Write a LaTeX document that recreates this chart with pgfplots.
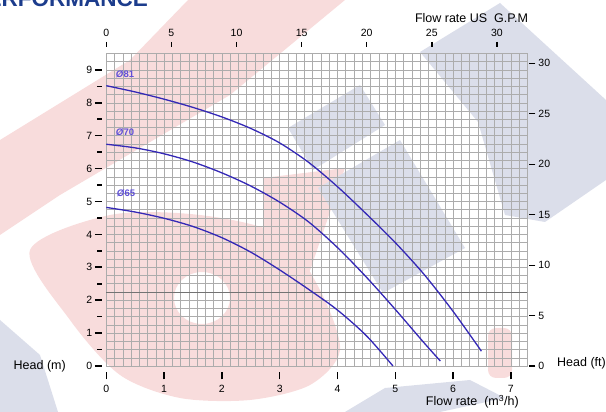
\documentclass[border=0pt]{standalone}
\usepackage{fontspec}
\setmainfont{Liberation Sans}
\usepackage{pgfplots}
\pgfplotsset{compat=1.18}
\definecolor{curveblue}{RGB}{52,40,182}
\definecolor{lblblue}{RGB}{95,80,215}
\definecolor{wpink}{RGB}{248,220,220}
\definecolor{wgrey}{RGB}{219,222,234}
\definecolor{gridc}{RGB}{172,172,172}
\definecolor{titleblue}{RGB}{28,60,140}
\pgfplotsset{
  /pgf/number format/assume math mode=true,
  base/.style={at={(0pt,0pt)}, anchor=south west, scale only axis,
    width=421.1pt, height=312.55pt, clip=false},
}
\newcommand{\tickfont}{\fontsize{10.5}{12}\selectfont}
\newcommand{\labfont}{\fontsize{12.5}{14}\selectfont}
\begin{document}
\begin{tikzpicture}
% watermark (pixel coordinates)
\begin{scope}[shift={(-106.3pt,366pt)}, x=1pt, y=-1pt]
  \fill[wpink] (188,0) -- (345,0) -- (230,95) -- (60,195) -- (0,235) -- (0,140) -- (130,60) -- cycle;
  \fill[wpink, even odd rule] plot[smooth cycle] coordinates {(30,250) (70,320) (120,375) (180,398) (250,400) (310,385) (340,350) (320,290) (280,235) (200,215) (110,215)}
     (202,298) ellipse [x radius=28, y radius=26];
  \fill[wpink] (263,178) -- (345,168) -- (300,300) -- (263,300) -- cycle;
  \fill[wpink, rounded corners=8pt] (488,328) rectangle (512,378);
  \fill[wgrey] (420,52) -- (500,3) -- (606,100) -- (606,180) -- (545,222) -- (505,215) -- (478,122) -- cycle;
  \fill[wgrey] (288,128) -- (360,85) -- (385,125) -- (313,170) -- cycle;
  \fill[wgrey] (318,188) -- (400,140) -- (465,248) -- (383,293) -- cycle;
  \fill[wgrey] (0,320) -- (40,355) -- (58,412) -- (0,412) -- cycle;
  \fill[wgrey] (345,412) -- (385,388) -- (470,380) -- (505,398) -- (440,412) -- cycle;
\end{scope}
% grid
\begin{axis}[base, xmin=0, xmax=7.2857, ymin=0, ymax=9.5,
  axis line style={gridc, line width=0.5pt},
  xtick={0,0.142857,...,7.3}, ytick={0,0.25,...,9.5},
  xticklabels={}, yticklabels={}, major tick length=0pt,
  grid=major, major grid style={gridc, line width=0.5pt},
  extra y ticks={2.23}, extra y tick labels={},
  extra y tick style={major grid style={black!55, line width=0.8pt}}]
\end{axis}
% bottom / left axes and curves
\begin{axis}[base, xmin=0, xmax=7.2857, ymin=0, ymax=9.5,
  axis line style={draw=none},
  xtick={0,...,7}, ytick={0,...,9}, minor ytick={0.5,1.5,...,8.5},
  xtick pos=left, ytick pos=left, tick align=outside,
  major tick length=7.5pt, minor tick length=5pt,
  xtick style={black, line width=1.5pt, yshift=-6pt},
  ytick style={black, line width=1.6pt, xshift=-4pt},
  xticklabel style={font=\tickfont, yshift=-8.5pt},
  yticklabel style={font=\tickfont, xshift=-3pt}]
\addplot[smooth, curveblue, line width=1.3pt] coordinates {
 (0,8.52) (0.5,8.33) (1.0,8.11) (1.5,7.86) (2.0,7.57) (2.5,7.22) (3.0,6.78)
 (3.5,6.19) (4.0,5.45) (4.5,4.62) (5.0,3.75) (5.5,2.78) (6.0,1.66) (6.49,0.45)};
\addplot[smooth, curveblue, line width=1.3pt] coordinates {
 (0,6.74) (0.5,6.63) (1.0,6.45) (1.5,6.20) (2.0,5.87) (2.5,5.47) (3.0,4.98)
 (3.5,4.38) (4.0,3.60) (4.5,2.70) (5.0,1.72) (5.5,0.70) (5.78,0.15)};
\addplot[smooth, curveblue, line width=1.3pt] coordinates {
 (0,4.82) (0.5,4.68) (1.0,4.49) (1.5,4.24) (2.0,3.90) (2.5,3.46) (3.0,2.92)
 (3.5,2.33) (4.0,1.70) (4.5,0.92) (4.96,0.0)};
\end{axis}
% top axis (US GPM)
\begin{axis}[base, xmin=0, xmax=32.34, ymin=0, ymax=1,
  axis line style={draw=none}, ytick=\empty,
  xtick={0,5,...,30}, xtick pos=right, xticklabel pos=right,
  tick align=outside, major tick length=5pt,
  xtick style={black, line width=1.4pt, yshift=6.6pt},
  xticklabel style={font=\tickfont, yshift=8.5pt}]
\end{axis}
% right axis (ft)
\begin{axis}[base, xmin=0, xmax=1, ymin=0, ymax=30.98,
  axis line style={draw=none}, xtick=\empty,
  ytick={0,5,...,30}, ytick pos=right, yticklabel pos=right,
  tick align=outside, major tick length=6pt,
  ytick style={black, line width=1.1pt, xshift=2pt},
  yticklabel style={font=\tickfont, xshift=1.5pt}]
\end{axis}
% texts (pixel coordinates)
\begin{scope}[shift={(-106.3pt,366pt)}, x=1pt, y=-1pt]
  \node[anchor=east, font=\labfont, inner sep=0pt] at (66,366) {Head (m)};
  \node[anchor=west, font=\labfont, inner sep=0pt] at (557,363) {Head (ft)};
  \node[anchor=east, font=\labfont, inner sep=0pt] at (519,402) {Flow rate\ \ (m\textsuperscript{3}/h)};
  \node[font=\labfont, inner sep=0pt] at (471.5,18) {Flow rate US\ \ G.P.M};
  \node[text=lblblue, font=\fontsize{9.5}{11}\selectfont\bfseries] at (125,74) {\textit{Ø}81};
  \node[text=lblblue, font=\fontsize{9.5}{11}\selectfont\bfseries] at (125,132) {\textit{Ø}70};
  \node[text=lblblue, font=\fontsize{9.5}{11}\selectfont\bfseries] at (126,193) {\textit{Ø}65};
  \node[anchor=base east, font=\fontsize{22.5}{26}\selectfont\bfseries, text=titleblue, inner sep=0pt] at (148,7) {PERFORMANCE};
\end{scope}
\pgfresetboundingbox
\begin{scope}[shift={(-106.3pt,366pt)}, x=1pt, y=-1pt]
  \useasboundingbox (0,0) rectangle (606,412);
\end{scope}
\end{tikzpicture}
\end{document}
